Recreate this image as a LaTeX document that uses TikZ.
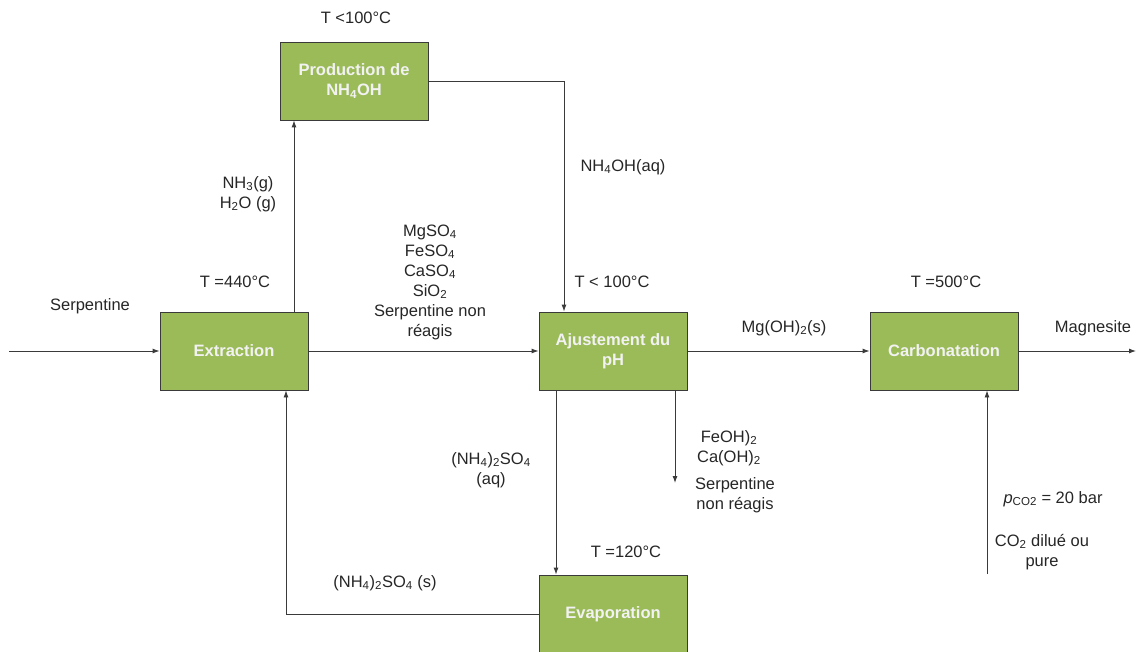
\documentclass[tikz,border=0pt]{standalone}
\usepackage{fontspec}
\setmainfont{Liberation Sans}
\usepackage{tikz}
\usetikzlibrary{arrows.meta}
\usepackage{xcolor}
\definecolor{boxgreen}{HTML}{9BBB59}
\definecolor{linegray}{HTML}{3A3A3A}
\tikzset{
  unit/.style={draw=linegray, line width=0.9pt, fill=boxgreen, text=white!95!black,
    minimum width=148pt, minimum height=78pt, align=center,
    font=\fontsize{16.5}{20}\selectfont\bfseries},
  lbl/.style={align=center, text=black!85, font=\fontsize{16.5}{20}\selectfont},
  flow/.style={draw=linegray, line width=0.9pt, -{Latex[length=7pt,width=5pt]}}
}

\begin{document}
\begin{tikzpicture}[x=1pt, y=-1pt]
    \useasboundingbox (0,0) rectangle (1140,652);
    % process units
    \node[unit] (prod) at (354,81) {Production de\\NH\textsubscript{4}OH};
    \node[unit] (extr) at (234,351) {Extraction};
    \node[unit] (ajust) at (613,351) {Ajustement du\\pH};
    \node[unit] (carb) at (944,351) {Carbonatation};
    \node[unit] (evap) at (613,614) {Evaporation};
    % free ends
    \coordinate (feed) at (9,351);
    \coordinate (prodout) at (1136,351);
    \coordinate (solids) at (675,483);
    \coordinate (co2in) at (987,574);
    % streams
    \draw[flow] (feed) -- (extr);
    \draw[flow] (extr) -- (ajust);
    \draw[flow] (ajust) -- (carb);
    \draw[flow] (carb) -- (prodout);
    \draw[flow] ([xshift=60pt]extr.north) -- ([xshift=60pt]extr.north |- prod.south);
    \draw[flow] (prod.east) -| ([xshift=-49pt]ajust.north);
    \draw[flow] ([xshift=-57pt]ajust.south) -- ([xshift=-57pt]evap.north);
    \draw[flow] (ajust.south -| solids) -- (solids);
    \draw[flow] (evap.west) -| ([xshift=52pt]extr.south);
    \draw[flow] (co2in) -- (co2in |- carb.south);
    % labels
    \node[lbl] (tprod) at (356,18) {T <100°C};
    \node[lbl] (gas) at (248,194) {NH\textsubscript{3}(g)\\H\textsubscript{2}O (g)};
    \node[lbl] (nh4oh) at (623,167) {NH\textsubscript{4}OH(aq)};
    \node[lbl] (textr) at (235,282) {T =440°C};
    \node[lbl] (serp) at (90,306) {Serpentine};
    \node[lbl] (sulf) at (430,282) {MgSO\textsubscript{4}\\FeSO\textsubscript{4}\\CaSO\textsubscript{4}\\SiO\textsubscript{2}\\Serpentine non\\réagis};
    \node[lbl] (tajust) at (612,282) {T < 100°C};
    \node[lbl] (mgoh) at (784,328) {Mg(OH)\textsubscript{2}(s)};
    \node[lbl] (tcarb) at (946,282) {T =500°C};
    \node[lbl] (magn) at (1093,328) {Magnesite};
    \node[lbl] (aq) at (491,470) {(NH\textsubscript{4})\textsubscript{2}SO\textsubscript{4}\\(aq)};
    \node[lbl] (hydr) at (729,448) {FeOH)\textsubscript{2}\\Ca(OH)\textsubscript{2}};
    \node[lbl] (serpnr) at (735,495) {Serpentine\\non réagis};
    \node[lbl] (tevap) at (626,552) {T =120°C};
    \node[lbl] (solid) at (385,583) {(NH\textsubscript{4})\textsubscript{2}SO\textsubscript{4} (s)};
    \node[lbl] (pco2) at (1053,499) {\textit{p}\textsubscript{CO2} = 20 bar};
    \node[lbl] (co2) at (1042,552) {CO\textsubscript{2} dilué ou\\pure};
\end{tikzpicture}
\end{document}
